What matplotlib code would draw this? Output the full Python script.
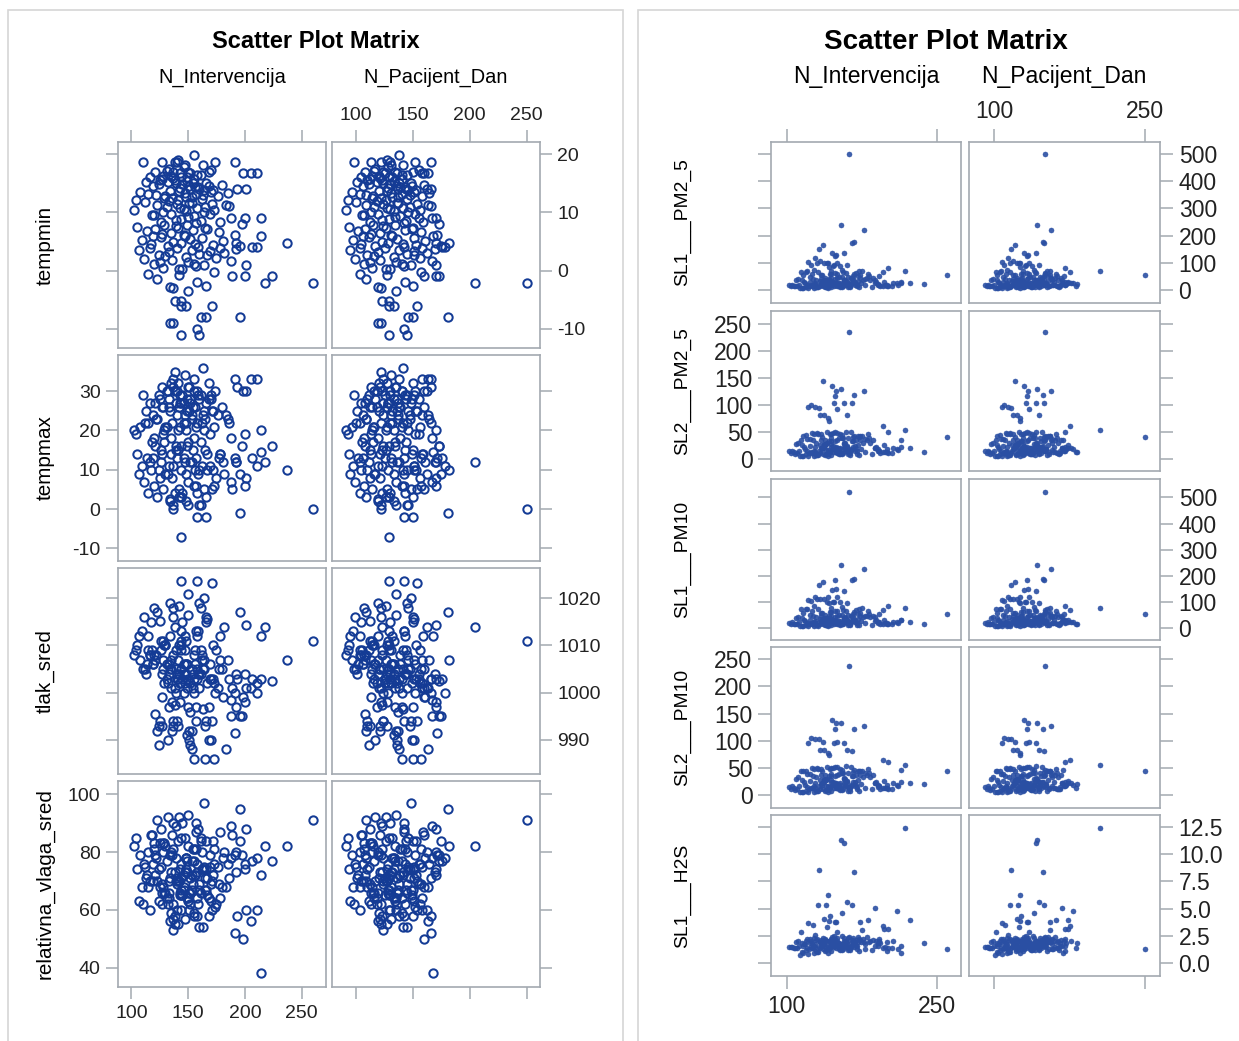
import matplotlib.pyplot as plt
from matplotlib import font_manager as fm
from matplotlib.patches import Rectangle

plt.rcParams['axes.unicode_minus'] = False

# one row per day
n_intervencija = [
    155, 138, 110, 127, 147, 140, 191.7, 163, 133, 121,
    150, 168, 174, 143, 198, 205, 211, 158, 128, 116,
    135, 146, 152, 161, 131, 141, 149, 137, 170, 144,
    125, 132, 139, 145, 151, 156, 160, 164, 170, 193,
    201, 115, 119, 122, 127, 130, 134, 136, 138, 141,
    143, 147, 149, 153, 154, 157, 159, 162, 166, 172,
    176, 180, 185, 124, 129, 137, 142, 148, 152, 155,
    163, 168, 108, 113, 104, 200, 214, 197.5, 102, 112,
    118, 123, 126, 131, 135, 140, 144, 148, 151, 155,
    158, 161, 165, 169, 173, 178, 183, 188, 128, 133,
    139, 146, 150, 153, 157, 164, 171, 120, 143, 186,
    237, 192, 196, 210.6, 206, 214, 191.7, 105, 109, 114,
    117, 121, 126, 129, 132, 135, 137, 141, 144, 146,
    149, 152, 154, 159, 162, 167, 172, 177, 181, 127,
    139, 147, 156, 165, 119, 201, 107, 111, 116, 120,
    124, 128, 133, 136, 140, 145, 148, 150, 153, 157,
    160, 164, 169, 175, 182, 188, 192, 130, 142, 155,
    167, 178, 125, 260, 218, 223.7, 189, 200.4, 115, 123,
    134, 142, 150, 158, 166, 173, 137, 196, 138, 144,
    148, 171, 161, 166, 144, 134, 137, 158, 160, 144,
]
n_pacijent_dan = [
    138, 122, 98, 113, 131, 130, 165.5, 141, 117, 108,
    134, 150, 152, 125, 160, 163, 158, 140, 114, 104,
    120, 128, 136, 145, 116, 127, 132, 124, 155, 129,
    110, 118, 124, 130, 135, 139, 144, 146, 151, 165.5,
    162, 103, 106, 109, 112, 115, 120, 122, 123, 126,
    128, 131, 133, 137, 138, 140, 143, 145, 148, 153,
    158, 160, 164, 111, 114, 121, 127, 132, 137, 140,
    147, 149, 96, 101, 93, 155, 170, 173, 91, 100,
    105, 109, 112, 116, 119, 124, 129, 133, 136, 139,
    141, 144, 147, 152, 156, 159, 163, 167, 113, 118,
    123, 130, 134, 137, 142, 146, 154, 107, 127, 166,
    182, 170, 175, 178, 176, 168, 171, 94, 97, 102,
    104, 108, 111, 115, 117, 121, 123, 126, 128, 131,
    134, 136, 143, 142, 151, 149, 153, 157, 161, 113,
    124, 132, 141, 150, 106, 170, 95, 99, 103, 107,
    110, 114, 119, 121, 125, 130, 133, 135, 138, 142,
    145, 148, 151, 156, 162, 167, 169, 116, 126, 140,
    151, 158, 112, 250, 205, 173, 159.5, 170, 103, 109,
    119, 127, 135, 143, 150, 157, 122, 181, 123, 129,
    133, 154, 146, 150, 129, 119, 122, 142, 145, 129,
]
tempmin = [
    19.8, 18.7, 18.7, 18.7, 18.2, 18.7, 18.7, 18.2, 17.5, 17.0,
    17.0, 17.0, 18.7, 16.7, 16.7, 16.7, 16.7, 16.5, 16.2, 16.0,
    16.3, 17.8, 16.8, 16.4, 17.2, 19.0, 16.0, 16.9, 17.3, 16.1,
    15.5, 15.2, 15.0, 14.8, 14.6, 14.3, 14.0, 13.8, 13.5, 14.0,
    14.0, 13.2, 14.5, 13.0, 15.8, 12.8, 13.6, 12.5, 15.6, 12.2,
    14.2, 13.4, 15.4, 12.6, 15.0, 13.1, 14.4, 12.3, 15.1, 13.9,
    12.9, 14.7, 13.3, 14.9, 12.4, 15.9, 13.7, 12.7, 14.1, 15.7,
    13.0, 14.6, 13.5, 15.3, 12.1, 9.0, 9.0, 8.0, 10.5, 11.8,
    9.5, 11.2, 8.4, 10.9, 9.8, 11.5, 8.9, 10.2, 11.7, 9.3,
    10.7, 8.6, 11.0, 9.7, 10.4, 8.3, 11.3, 9.1, 10.0, 11.9,
    8.7, 10.6, 9.2, 11.6, 8.2, 10.1, 11.4, 9.6, 10.8, 11.1,
    4.8, 4.8, 4.2, 4.0, 4.0, 5.9, 6.2, 7.5, 5.2, 6.8,
    4.5, 7.2, 5.7, 7.8, 4.3, 6.5, 5.0, 7.4, 4.7, 6.1,
    7.9, 5.4, 6.9, 4.1, 5.6, 7.1, 4.4, 6.6, 5.1, 6.3,
    7.6, 5.9, 4.6, 7.3, 6.0, 0.9, 3.5, 2.0, 3.8, 1.2,
    2.7, 0.5, 3.2, 1.8, 3.9, 0.3, 2.4, 1.5, 3.6, 0.8,
    2.9, 1.0, 3.3, 2.2, 3.0, 1.7, 3.7, 2.5, 0.2, 1.1,
    2.6, 3.9, 1.4, -2.1, -2.1, -1.0, -1.0, -1.0, -0.5, -1.5,
    -2.8, -0.8, -3.5, -1.9, -2.6, -0.3, -3.0, -8.0, -5.2, -5.2,
    -6.0, -6.0, -8.0, -8.0, -6.0, -9.0, -9.0, -10.0, -11.0, -11.0,
]
tempmax = [
    33, 35, 29, 31, 34, 30, 33, 36, 28, 27,
    31, 32, 30, 29, 30, 33, 33, 30, 26, 27,
    32, 27, 28, 29, 30, 32, 25, 33, 28, 27,
    28, 30, 27, 29, 31, 26, 28, 25, 29, 31,
    30, 22, 24, 23, 26, 21, 25, 22, 30, 20,
    27, 24, 28, 23, 26, 21, 29, 22, 27, 25,
    24, 26, 23, 29, 20, 31, 26, 22, 27, 30,
    24, 28, 21, 25, 19, 19, 20, 16, 20, 22,
    17, 23, 15, 21, 18, 24, 16, 20, 25, 18,
    22, 17, 23, 19, 21, 14, 24, 18, 19, 26,
    15, 22, 17, 24, 13, 20, 25, 18, 21, 22,
    10, 12, 9, 11, 13, 14.6, 13, 14, 11, 13,
    10, 16, 12, 17, 9, 14, 11, 15, 10, 13,
    16, 12, 15, 9, 11, 14, 10, 13, 12, 14,
    16, 12, 10, 15, 13, 8, 9, 7, 12, 6,
    10, 5, 11, 8, 13, 4, 9, 7, 12, 6,
    10, 5, 11, 8, 9, 7, 12, 9, 3, 6,
    10, 14, 8, 0, 12, 16, 5, 6, 4, 3,
    2, 5, 1, 4, 3, 6, 0, -1, 4, 3,
    2, 5, 1, -2, 3, 2.6, 1, -2, 1, -7,
]
tlak_sred = [
    1003, 1001, 1005, 999, 1002, 1004, 1000, 996.5, 1006, 1007,
    1003, 997, 1000, 1002, 999, 1001, 1002, 1003, 1005, 1008,
    1001, 1000, 1002, 1004, 1003, 993, 1006, 994, 1003, 1005,
    994, 1002, 1005, 1003, 992, 1006, 1004, 1007, 990, 1003,
    1001, 1009, 1006, 1008, 993, 1010, 1005, 998, 997.5, 1007,
    1002, 1009, 991, 1005, 1001, 997, 1004, 1008, 994, 1003,
    1001, 1005, 1007, 989, 1010, 993, 1004, 1006, 996, 1000,
    1005, 990, 1007, 1004, 1009, 1004, 1003, 995, 1008, 1005,
    1009, 992, 1011, 1006, 1007, 994, 1010, 1004, 990, 1008,
    1005, 1009, 993, 1006, 1002, 1012, 988, 998.5, 1007, 997,
    1009, 1004, 997, 992, 994, 1005, 994, 1008, 998, 1003,
    1007, 997, 995, 1000, 1003, 1012, 991.4, 1010, 1013, 1006,
    1015, 995.6, 1009, 1002, 990, 1005, 1008, 1003, 1011, 1006,
    1001, 989, 1004, 1013, 1007, 1002, 1010, 1005, 999, 1004,
    1000, 1012, 1009, 985.9, 1006, 1014.4, 1012, 1016, 1008, 1018,
    993, 1011, 1004, 992, 1003, 1015, 1006, 1016.4, 988, 1013,
    1001, 1020, 1003, 1009, 1014, 995, 1004, 1010, 1018.4, 986,
    1015.7, 1007, 1015.2, 1011, 1014, 1002.5, 1001, 998, 1012, 1017,
    1019, 1010, 1021, 1012, 1016, 986, 1018, 1017, 1014, 1009,
    1011, 1023.3, 1018, 1015, 1013, 1012, 1016, 1023.6, 1019, 1023.6,
]
relativna_vlaga_sred = [
    58, 55, 62, 66, 57, 60, 52, 54, 70, 72,
    63, 58, 61, 65, 50, 56, 60, 64, 68, 70,
    59, 67, 62, 66, 64, 55, 73, 53, 69, 71,
    68, 62, 70, 65, 60, 72, 67, 74, 63, 58,
    60, 80, 76, 78, 69, 82, 71, 79, 58, 84,
    66, 73, 64, 77, 69, 81, 62, 80, 67, 72,
    75, 68, 76, 63, 83, 57, 70, 78, 66, 59,
    74, 64, 79, 71, 85, 76, 72, 79, 82, 75,
    86, 70, 88, 77, 80, 69, 85, 74, 66, 81,
    73, 84, 71, 79, 76, 87, 68, 78, 83, 64,
    89, 72, 82, 67, 90, 75, 70, 81, 74, 71,
    82, 80, 84, 78, 77, 38, 79, 74, 68, 72,
    86, 79, 75, 66, 92, 73, 81, 70, 76, 68,
    77, 71, 81, 88, 74, 65, 84, 69, 78, 62,
    78, 85, 72, 67, 70, 88, 63, 76, 60, 83,
    74, 80, 66, 86, 71, 90, 78, 64, 72, 87,
    69, 97, 75, 62, 80, 89, 73, 66, 92, 77,
    71, 64, 83, 91, 82, 77, 86, 74, 68, 91,
    79, 70, 93, 76, 84, 81, 90, 95, 73, 67,
    78, 60, 85, 74, 65, 56, 62, 58, 54, 60,
]
sl1_pm2_5 = [
    12, 9, 14, 8, 16, 11, 18, 10, 13, 7,
    15, 20, 24, 19, 17, 15, 20, 22, 18, 6,
    25, 27, 14, 11, 9, 21, 17, 28, 13, 10,
    16, 20, 12, 24, 18, 15, 30, 22, 19, 14,
    13, 8, 11, 14, 21, 9, 25, 13, 32, 7,
    18, 23, 27, 12, 16, 35, 20, 14, 28, 11,
    38, 45, 12, 17, 10, 33, 15, 26, 19, 22,
    16, 29, 13, 7, 15, 13, 28, 30, 18, 20,
    24, 30, 15, 65, 22, 36, 28, 40, 25, 48,
    31, 19, 42, 23, 55, 17, 38, 25, 27, 33,
    21, 29, 44, 26, 37, 24, 32, 19, 58, 43,
    22, 20, 65, 26, 26, 26, 22, 20, 35, 65,
    28, 104, 42, 38, 151, 55, 99, 99, 45, 87,
    130, 48, 238, 62, 500, 178, 70, 220, 60, 74,
    33, 92, 65, 173, 66, 81, 13, 40, 55, 68,
    93, 118, 105, 167, 99, 136, 126, 99, 87, 136,
    90, 45, 62, 69, 50, 38, 50, 99, 85, 75,
    58, 42, 60, 55, 69, 26, 30, 18, 35, 48,
    55, 42, 60, 38, 52, 44, 32, 14, 45, 58,
    62, 52, 48, 40, 70, 42, 36, 30, 28, 34,
]
sl2_pm2_5 = [
    8, 6, 10, 5, 12, 9, 14, 7, 10, 4,
    11, 15, 18, 13, 12, 10, 16, 17, 12, 5,
    19, 20, 9, 8, 6, 16, 12, 21, 9, 7,
    11, 15, 8, 18, 13, 10, 24, 16, 14, 11,
    10, 5, 8, 10, 15, 6, 19, 9, 25, 5,
    13, 17, 21, 8, 11, 27, 15, 10, 22, 7,
    30, 35, 9, 12, 7, 26, 10, 20, 14, 17,
    11, 23, 9, 4, 11, 12, 22, 25, 14, 15,
    18, 24, 11, 45, 17, 29, 22, 32, 19, 38,
    24, 14, 33, 18, 42, 12, 30, 20, 21, 26,
    16, 23, 35, 20, 29, 18, 25, 14, 46, 34,
    12, 15, 60, 18, 20, 35, 18, 15, 28, 35,
    22, 96, 34, 30, 95, 40, 81, 75, 33, 48,
    125, 38, 130, 50, 236, 118, 40, 125, 45, 45,
    27, 104, 38, 104, 44, 50, 12, 30, 42, 36,
    99, 96, 81, 144, 50, 135, 117, 92, 45, 104,
    81, 50, 35, 42, 38, 20, 15, 48, 70, 44,
    43, 37, 47, 41, 53, 20, 22, 18, 26, 36,
    45, 33, 48, 29, 40, 35, 25, 12, 35, 46,
    50, 42, 39, 32, 38, 34, 28, 24, 22, 27,
]
sl1_pm10 = [
    15, 11, 16, 10, 18, 13, 20, 12, 15, 9,
    17, 22, 27, 21, 19, 16, 21, 24, 20, 8,
    28, 30, 16, 13, 10, 23, 19, 30, 14, 12,
    18, 22, 14, 26, 20, 17, 33, 24, 21, 16,
    15, 10, 13, 16, 23, 11, 27, 15, 35, 9,
    20, 25, 29, 14, 18, 38, 22, 16, 31, 13,
    41, 48, 14, 19, 12, 36, 17, 28, 21, 24,
    18, 32, 15, 9, 17, 15, 30, 33, 20, 22,
    26, 33, 17, 73, 24, 39, 30, 43, 27, 52,
    34, 21, 45, 25, 60, 19, 41, 28, 29, 36,
    23, 31, 47, 28, 40, 26, 35, 21, 62, 46,
    17, 22, 70, 22, 22, 30, 25, 22, 38, 73,
    30, 108, 45, 41, 165, 60, 110, 118, 48, 100,
    150, 52, 241, 66, 519, 188, 75, 228, 64, 85,
    36, 100, 70, 186, 73, 86, 16, 43, 60, 74,
    105, 120, 113, 178, 100, 147, 183, 118, 100, 141,
    98, 48, 68, 77, 54, 42, 55, 110, 95, 82,
    63, 46, 66, 53, 77, 22, 33, 20, 38, 52,
    60, 45, 65, 41, 56, 48, 35, 16, 49, 63,
    66, 56, 52, 43, 76, 46, 39, 33, 30, 37,
]
sl2_pm10 = [
    10, 8, 12, 7, 14, 10, 15, 9, 11, 6,
    13, 18, 21, 16, 14, 12, 18, 19, 14, 7,
    22, 23, 11, 9, 8, 18, 14, 24, 11, 9,
    13, 17, 10, 20, 15, 12, 27, 18, 16, 12,
    12, 7, 9, 12, 17, 8, 21, 11, 28, 6,
    15, 19, 23, 10, 13, 30, 17, 12, 24, 9,
    33, 38, 11, 14, 8, 29, 12, 22, 16, 19,
    13, 25, 10, 6, 12, 14, 25, 27, 16, 17,
    20, 27, 13, 48, 19, 31, 24, 35, 21, 41,
    26, 16, 36, 20, 45, 14, 33, 22, 23, 29,
    18, 25, 38, 22, 32, 20, 28, 16, 49, 37,
    21, 18, 65, 20, 23, 47, 20, 17, 30, 45,
    24, 96, 36, 33, 104, 45, 84, 78, 36, 50,
    133, 40, 133, 54, 238, 122, 44, 128, 48, 48,
    29, 96, 41, 81, 45, 62, 14, 33, 45, 39,
    106, 104, 84, 98, 52, 137.5, 122, 98, 48, 96,
    84, 52, 38, 45, 42, 22, 18, 50, 75, 47,
    47, 41, 50, 44, 56, 23, 24, 20, 29, 40,
    48, 36, 52, 31, 43, 37, 27, 14, 38, 50,
    53, 45, 42, 35, 40, 37, 31, 26, 24, 29,
]
sl1_h2s = [
    1.2, 1.1, 1.4, 0.9, 1.5, 1.3, 1.6, 1.2, 1.4, 0.8,
    1.6, 1.7, 1.9, 1.5, 1.5, 1.4, 1.3, 1.8, 1.5, 0.9,
    1.6, 1.7, 1.3, 1.2, 1.0, 1.6, 1.4, 1.7, 1.3, 1.1,
    1.4, 1.5, 1.2, 1.7, 1.6, 1.3, 1.9, 1.5, 1.6, 1.8,
    1.4, 1.0, 1.2, 1.3, 1.6, 1.0, 1.8, 1.3, 2.1, 0.9,
    1.5, 1.6, 1.8, 1.2, 1.4, 2.3, 1.5, 1.3, 1.9, 1.1,
    2.2, 2.4, 1.2, 1.5, 1.1, 2.0, 1.3, 1.7, 1.5, 1.6,
    1.4, 1.9, 1.4, 0.7, 1.5, 1.9, 1.6, 3.1, 1.5, 1.6,
    1.7, 1.8, 1.4, 5.36, 1.6, 2.0, 1.8, 2.2, 1.7, 2.5,
    1.9, 1.5, 2.1, 1.6, 3.72, 1.3, 2.0, 5.08, 1.7, 1.9,
    1.5, 1.8, 2.3, 1.7, 2.0, 1.6, 1.9, 1.4, 4.34, 2.1,
    1.79, 2.2, 3.4, 4.74, 2.0, 0.95, 1.8, 1.5, 1.9, 2.86,
    1.7, 3.63, 3.48, 2.1, 8.5, 1.9, 4.0, 6.25, 2.2, 2.1,
    3.72, 1.8, 11.3, 2.0, 2.4, 8.35, 2.2, 1.9, 3.94, 2.3,
    5.36, 2.5, 1.7, 5.36, 2.0, 3.1, 1.4, 2.0, 1.6, 2.2,
    2.0, 2.6, 1.9, 2.3, 3.3, 2.4, 3.72, 2.8, 1.7, 11.05,
    5.57, 1.8, 2.1, 3.0, 1.9, 1.6, 2.0, 2.2, 3.9, 4.6,
    1.5, 1.7, 1.8, 1.32, 12.4, 3.97, 2.0, 1.1, 1.8, 2.2,
    1.9, 2.0, 2.0, 1.9, 2.3, 2.1, 1.7, 1.4, 2.2, 1.6,
    1.9, 2.4, 2.3, 2.0, 2.1, 2.1, 1.9, 1.7, 1.6, 1.8,
]

W, H = 1239, 1041
BLUE = '#143b95'
BLUE2 = '#2a4fa3'
EDGE = '#a3a9b0'
SANS = ['Liberation Sans', 'DejaVu Sans']

# SAS draws the variable names in a narrow face; use one if it is installed
installed = {f.name for f in fm.fontManager.ttflist}
if 'Liberation Sans Narrow' in installed:
    NARROW, NSCALE = ['Liberation Sans Narrow', 'Liberation Sans'], 1.0
else:
    NARROW, NSCALE = SANS, 0.85

fig = plt.figure(figsize=(W / 100, H / 100), dpi=100)


def rect(x0, y0, x1, y1):
    return [x0 / W, 1 - y1 / H, (x1 - x0) / W, (y1 - y0) / H]


def label(x, y, s, **kw):
    fig.text(x / W, 1 - y / H, s, ha='center', va='center', **kw)


# outer frames of the two SAS outputs
for x0, x1 in [(8, 623), (638, 1260)]:
    fig.add_artist(Rectangle((x0 / W, -0.05), (x1 - x0) / W, 1.05 - 10 / H,
                             transform=fig.transFigure, fill=False,
                             ec='#d6d6d6', lw=1.2))


def panel(box, x, y, xlim, ylim, xticks, yticks, sides, style, fs, tlen, ylabels=None):
    ax = fig.add_axes(rect(*box))
    if style == 'circle':
        ax.plot(x, y, 'o', ls='none', ms=6.0, mfc='none', mec=BLUE, mew=1.45)
    else:
        ax.plot(x, y, 'o', ls='none', ms=3.6, mfc=BLUE2, mec=BLUE2, mew=0.4, alpha=0.9)
    ax.set_xlim(*xlim)
    ax.set_ylim(*ylim)
    ax.set_xticks(xticks)
    ax.set_yticks(yticks)
    if ylabels is not None:
        ax.set_yticklabels(ylabels)
    for sp in ax.spines.values():
        sp.set_color(EDGE)
        sp.set_linewidth(1.2)
    common = dict(direction='out', length=tlen, width=1.1, color=EDGE,
                  labelsize=fs, pad=4, labelcolor='#222222')
    ax.tick_params(axis='x', bottom='bottom' in sides, top='top' in sides,
                   labelbottom=sides.get('bottom') == 'lab',
                   labeltop=sides.get('top') == 'lab', **common)
    ax.tick_params(axis='y', left='left' in sides, right='right' in sides,
                   labelleft=sides.get('left') == 'lab',
                   labelright=sides.get('right') == 'lab', **common)
    for t in ax.get_xticklabels() + ax.get_yticklabels():
        t.set_family(SANS)
    return ax


def outer_sides(r, c, nrows):
    sides = {}
    lab_side = 'right' if r % 2 == 0 else 'left'
    if c == 0:
        sides['left'] = 'lab' if lab_side == 'left' else 'mark'
    else:
        sides['right'] = 'lab' if lab_side == 'right' else 'mark'
    if r == 0:
        sides['top'] = 'lab' if c == 1 else 'mark'
    if r == nrows - 1:
        sides['bottom'] = 'lab' if c == 0 else 'mark'
    return sides


x_vars = [n_intervencija, n_pacijent_dan]

# ---------------- left matrix ----------------
left_cols = [(118, 326), (332, 540)]
left_rows = [(142, 348), (355, 561), (568, 774), (781, 987)]
left_xlim = [(88.2, 271.5), (78.8, 261.8)]
left_y = [tempmin, tempmax, tlak_sred, relativna_vlaga_sred]
left_ylim = [(-13.3, 22.1), (-13.2, 39.2), (982.8, 1026.4), (33.3, 104.6)]
left_yticks = [[-10, 0, 10, 20], [-10, 0, 10, 20, 30], [990, 1000, 1010, 1020], [40, 60, 80, 100]]
left_names = ['tempmin', 'tempmax', 'tlak_sred', 'relativna_vlaga_sred']

for r, (y0, y1) in enumerate(left_rows):
    for c, (x0, x1) in enumerate(left_cols):
        panel((x0, y0, x1, y1), x_vars[c], left_y[r], left_xlim[c], left_ylim[r],
              [100, 150, 200, 250], left_yticks[r], outer_sides(r, c, 4),
              'circle', 14, 8.6)
    label(45, (y0 + y1) / 2, left_names[r], rotation=90, fontsize=17.5 * NSCALE, family=NARROW)

label(316, 42, 'Scatter Plot Matrix', fontsize=17, fontweight='bold', family=SANS)
label(222, 77, 'N_Intervencija', fontsize=17 * NSCALE, family=NARROW)
label(436, 77, 'N_Pacijent_Dan', fontsize=17 * NSCALE, family=NARROW)

# ---------------- right matrix ----------------
right_cols = [(771, 961), (969, 1160)]
right_rows = [(142, 303), (311, 471), (479, 640), (647, 808), (815, 976)]
right_xlim = [(84.5, 274.4), (74.9, 265.0)]
right_y = [sl1_pm2_5, sl2_pm2_5, sl1_pm10, sl2_pm10, sl1_h2s]
right_ylim = [(-48, 544), (-23, 274.6), (-45, 570), (-23, 272), (-1.2, 13.6)]
right_yticks = [[0, 100, 200, 300, 400, 500], [0, 50, 100, 150, 200, 250],
                [0, 100, 200, 300, 400, 500], [0, 50, 100, 150, 200, 250],
                [0, 2.5, 5, 7.5, 10, 12.5]]
right_names = ['SL1___PM2_5', 'SL2___PM2_5', 'SL1___PM10', 'SL2___PM10', 'SL1___H2S']

for r, (y0, y1) in enumerate(right_rows):
    for c, (x0, x1) in enumerate(right_cols):
        ylabels = ['0.0', '2.5', '5.0', '7.5', '10.0', '12.5'] if r == 4 else None
        panel((x0, y0, x1, y1), x_vars[c], right_y[r], right_xlim[c], right_ylim[r],
              [100, 250], right_yticks[r], outer_sides(r, c, 5),
              'dot', 16.5, 9.4, ylabels)
    label(683, (y0 + y1) / 2, right_names[r], rotation=90, fontsize=16.5 * (0.84 if NSCALE < 1 else 1.0),
          family=NARROW)

label(946, 42, 'Scatter Plot Matrix', fontsize=20, fontweight='bold', family=SANS)
label(866, 77, 'N_Intervencija', fontsize=16.5, family=SANS)
label(1064, 77, 'N_Pacijent_Dan', fontsize=16.5, family=SANS)

fig.savefig('out.png', dpi=100, facecolor='white')
